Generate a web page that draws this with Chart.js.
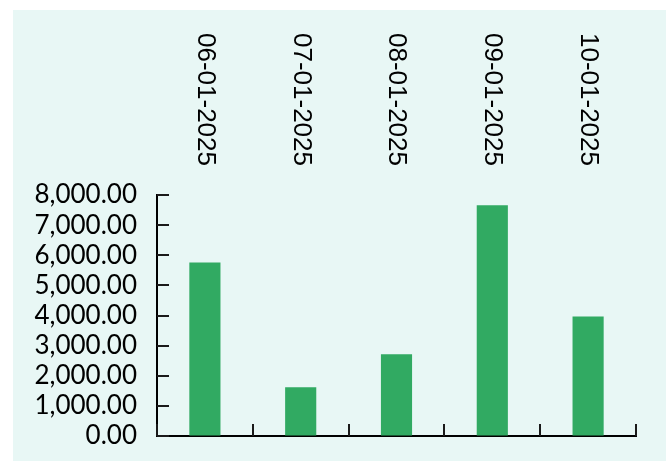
<!DOCTYPE html>
<html>
<head>
<meta charset="utf-8">
<style>
  html, body { margin: 0; padding: 0; background: #ffffff; }
  #c { display: block; }
</style>
<script src="https://cdn.jsdelivr.net/npm/chart.js@4/dist/chart.umd.min.js"></script>
</head>
<body>
<canvas id="c" width="669" height="461"></canvas>
<script>
// Monthly amounts, one bar per month
const months = ['06-01-2025', '07-01-2025', '08-01-2025', '09-01-2025', '10-01-2025'];
const amounts = [5760, 1620, 2710, 7660, 3970];

// Value axis range
const yMin = 0;
const yMax = 8000;
const yStep = 1000;

const panelColor = '#e8f7f5';
const barColor = '#31aa62';

// Light panel behind the chart, white margin around it
const panelPlugin = {
  id: 'panel',
  beforeDraw(chart) {
    const ctx = chart.ctx;
    ctx.save();
    ctx.fillStyle = '#ffffff';
    ctx.fillRect(0, 0, chart.width, chart.height);
    ctx.fillStyle = panelColor;
    ctx.fillRect(13, 10, chart.width - 16, chart.height - 10);
    ctx.restore();
  }
};

// Short tick marks pointing into the plot from both axes
const innerTicksPlugin = {
  id: 'innerTicks',
  afterDraw(chart) {
    const ctx = chart.ctx;
    const area = chart.chartArea;
    const y = chart.scales.y;
    const x = chart.scales.x;
    const len = 12;
    ctx.save();
    ctx.strokeStyle = '#1a1a1a';
    ctx.lineWidth = 2;
    ctx.beginPath();
    y.ticks.forEach((t, i) => {
      const py = Math.round(y.getPixelForTick(i));
      ctx.moveTo(area.left, py);
      ctx.lineTo(area.left + len, py);
    });
    for (let i = 0; i <= months.length; i++) {
      const px = Math.round(x.getPixelForValue(i - 0.5));
      ctx.moveTo(px, area.bottom);
      ctx.lineTo(px, area.bottom - len);
    }
    ctx.stroke();
    ctx.restore();
  }
};

new Chart(document.getElementById('c'), {
  type: 'bar',
  data: {
    labels: months,
    datasets: [{
      data: amounts,
      backgroundColor: barColor,
      borderWidth: 0,
      barPercentage: 0.325,
      categoryPercentage: 1
    }]
  },
  options: {
    responsive: false,
    animation: false,
    devicePixelRatio: 1,
    layout: { autoPadding: false, padding: { left: 13, top: 10, right: 33, bottom: 25 } },
    plugins: {
      legend: { display: false },
      tooltip: { enabled: false }
    },
    scales: {
      x: {
        type: 'category',
        position: 'top',
        offset: true,
        grid: { display: false },
        border: { display: false },
        ticks: {
          autoSkip: false,
          minRotation: -90,
          maxRotation: -90,
          mirror: true,
          padding: -162,
          color: '#000000',
          font: { family: '"Liberation Sans", Arial, sans-serif', size: 26 }
        },
        afterFit(scale) {
          scale.height = 185;
          scale.paddingLeft = 0;
          scale.paddingRight = 0;
        }
      },
      xb: {
        type: 'category',
        position: 'bottom',
        offset: true,
        grid: { display: false },
        ticks: { display: false },
        border: { display: true, color: '#000000', width: 2 },
        afterFit(scale) { scale.height = 0; }
      },
      y: {
        type: 'linear',
        min: yMin,
        max: yMax,
        grid: { display: true, drawOnChartArea: false, drawTicks: false },
        border: { display: true, color: '#000000', width: 2 },
        ticks: {
          stepSize: yStep,
          autoSkip: false,
          padding: 20,
          color: '#000000',
          font: { family: 'Lato, "Open Sans", sans-serif', size: 26 },
          callback: v => Number(v).toLocaleString('en-US', { minimumFractionDigits: 2, maximumFractionDigits: 2 })
        },
        afterFit(scale) {
          scale.width = 144;
          scale.paddingTop = 0;
          scale.paddingBottom = 0;
        }
      }
    }
  },
  plugins: [panelPlugin, innerTicksPlugin]
});
</script>
</body>
</html>
